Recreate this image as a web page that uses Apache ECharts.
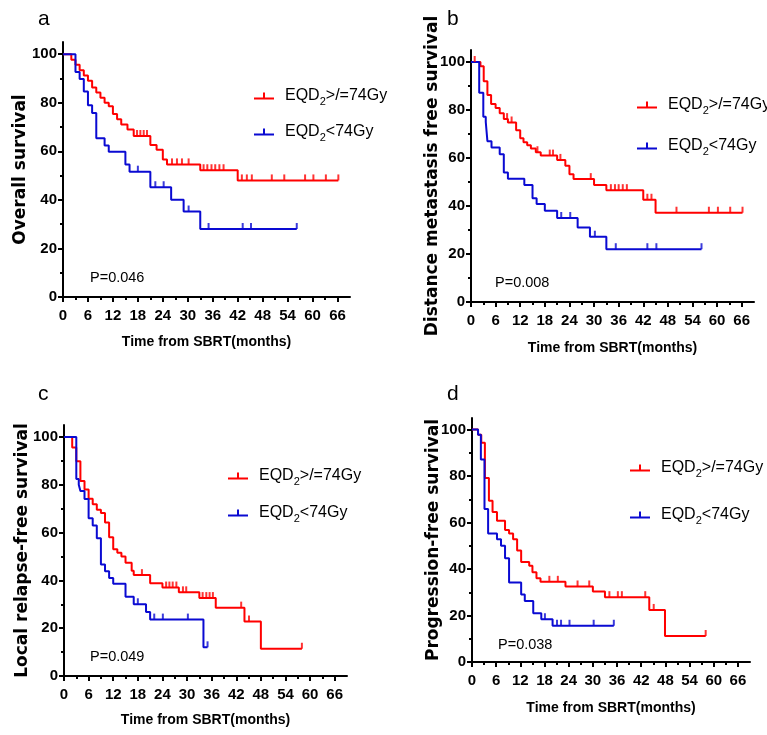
<!DOCTYPE html>
<html>
<head>
<meta charset="utf-8">
<script src="https://cdn.jsdelivr.net/npm/echarts@6/dist/echarts.min.js"></script>
<style>
html, body { margin: 0; padding: 0; background: #fff; }
#main { width: 767px; height: 735px; }
</style>
</head>
<body>
<div id="main"></div>
<script>
// Kaplan-Meier steps [month, survival %]
var osHigh = [[0,100],[2,97.7],[3,95.6],[4,93.4],[5,91.2],[6,89],[7,86.3],[8,84.2],[9,82],[10,80],[11,78.5],[12,75.4],[13,73.2],[14,71],[15.5,69],[17,66.3],[21,62.6],[22.5,60.6],[24,56.6],[25,54.6],[33,52.2],[42,48],[66.2,48]];
var osHighCens = [17.8,18.6,19.4,20.2,26.2,27.4,28.6,30.2,33.8,34.7,35.7,36.6,37.6,38.6,43,44.2,45.4,50.2,53.2,58.2,60.2,63.2,66.2];
var osLow = [[0,100],[3,92.6],[4,89.8],[5,84.6],[6,79],[7,75.8],[8,65.4],[10,62.4],[11,59.8],[15,54.6],[16,51.6],[21,45.2],[26,40],[29,35.2],[33,28],[56.2,28]];
var osLowCens = [18,22.2,24.2,30.2,35,43.2,45.2,56.2];

var dmHigh = [[0,100],[2.3,98.2],[3.1,92],[4,86.2],[4.9,82.5],[6,80.8],[7,78.6],[8,76.2],[9,74.8],[11,71.6],[12,68.2],[12.8,66.6],[13.7,65.3],[14.6,64],[15.8,62.4],[17,61],[21,59.2],[23,56.8],[24,53.2],[25,51.2],[30,48.8],[33,46.6],[42,42.6],[45,37.2],[66.2,37.2]];
var dmHighCens = [0.9,8.8,9.9,16.2,19.2,20,21.8,29.2,34.1,35.1,36,37,38,43,44,50.1,58,60.2,63.2,66.2];
var dmLow = [[0,100],[2,87.2],[3,77.2],[3.6,75],[4,67],[5,64.4],[7,61.6],[8,54],[9,51.4],[13,48.8],[15,43.2],[16,40.8],[18,38],[21,35],[26,31],[29,27.2],[33,22],[56.2,22]];
var dmLowCens = [22,24.2,30.2,35.3,43,45.2,56.2];

var lrHigh = [[0,100],[2,95.6],[3,89.8],[4,81.6],[5,78],[6,74.2],[7,71.8],[8,69.5],[9,68.2],[10,64.2],[11,58],[12,53],[13,51.6],[14,50],[15,47.4],[16.5,44],[17,42.2],[21,38.8],[24,37],[28,35],[33,32.6],[37,28.6],[44,22.8],[48,11.4],[58,11.4]];
var lrHighCens = [19,24.9,25.7,26.5,27.4,29,29.8,33.8,34.7,35.5,36.3,43.2,45.1,58];
var lrLow = [[0,100],[3,82.4],[3.6,80],[4,77.4],[5,74],[6,66],[7,63],[8,57.6],[9,46.6],[10,43.8],[11,41],[12,38.6],[15,33.2],[17,30],[20,26.8],[21,23.6],[34,12],[35,12]];
var lrLowCens = [18,22,24.1,30.2,35];

var pfHigh = [[0,100],[1.5,97.8],[2.3,94.3],[3.2,79.2],[4.2,69.4],[5.1,64.6],[6.2,60.8],[8.2,56.8],[9.2,55.3],[10.2,52.8],[11.2,48],[12.2,43],[14.2,41.4],[15,38.6],[16,36],[17,34.5],[23.2,32.5],[30,30.3],[33,27.9],[44,22.4],[47.9,11.2],[58,11.2]];
var pfHighCens = [19.2,21.3,26.2,29.1,34.1,36.2,37.2,43,45.1,58];
var pfLow = [[0,100],[1.5,97.8],[2.2,87.1],[3.1,65.8],[4,55.3],[6.2,52.8],[7.2,50],[8.2,44.6],[9.2,34.2],[12.2,29],[13.1,26.3],[15.2,21],[17.2,18.4],[20,15.6],[35.2,15.6]];
var pfLowCens = [18.1,21.1,22.1,24.2,30.2,35.2];

var xTicks = [0,6,12,18,24,30,36,42,48,54,60,66];
var xMinor = [3,9,15,21,27,33,39,45,51,57,63];
var yTicks = [0,20,40,60,80,100];
var yMinor = [10,30,50,70,90];

var nameHigh = 'EQD2>/=74Gy';
var nameLow = 'EQD2<74Gy';
var panelLetters = ['a','b','c','d'];
var pValues = ['P=0.046','P=0.008','P=0.049','P=0.038'];
var yNames = ['Overall survival','Distance metastasis free survival','Local relapse-free survival','Progression-free survival'];

var RED = '#ff0000';
var BLUE = '#0a0ad2';
var SANS = "'Liberation Sans',Arial,sans-serif";
var WIDE = "'DejaVu Sans',sans-serif";

var panels = [
  {hi: osHigh, hiC: osHighCens, lo: osLow, loC: osLowCens, grid: {left: 63, top: 42, width: 287, height: 255},
   yGap: 34, xGap: 38, legend: {left: 249, top: 80, gap: 14}, letter: [38, 9], p: [90, 270]},
  {hi: dmHigh, hiC: dmHighCens, lo: dmLow, loC: dmLowCens, grid: {left: 471, top: 50, width: 283, height: 252},
   yGap: 30, xGap: 39, legend: {left: 632, top: 89, gap: 19}, letter: [447, 9], p: [495, 275]},
  {hi: lrHigh, hiC: lrHighCens, lo: lrLow, loC: lrLowCens, grid: {left: 64, top: 425, width: 283, height: 251},
   yGap: 33, xGap: 37, legend: {left: 223, top: 460, gap: 15}, letter: [38, 384], p: [90, 649]},
  {hi: pfHigh, hiC: pfHighCens, lo: pfLow, loC: pfLowCens, grid: {left: 472, top: 418, width: 278, height: 244},
   yGap: 30, xGap: 39, legend: {left: 625, top: 452, gap: 25}, letter: [447, 384], p: [498, 637]}
];

// survival value at time t for censor marks
function survAt(steps, t) {
  var v = steps[0][1];
  for (var i = 0; i < steps.length; i++) {
    if (steps[i][0] <= t) v = steps[i][1];
  }
  return v;
}

var grids = [], xAxes = [], yAxes = [], series = [], legends = [], titles = [];
var tickIcon = 'path://M0,5h20v2h-20z M9,0h2v5h-2z';

panels.forEach(function (p, i) {
  grids.push(p.grid);
  xAxes.push({
    gridIndex: i, type: 'value', min: 0, max: 69, position: 'bottom',
    name: 'Time from SBRT(months)', nameLocation: 'middle', nameGap: p.xGap, nameMoveOverlap: false,
    nameTextStyle: {fontFamily: SANS, fontWeight: 'bold', fontSize: 14, color: '#000'},
    axisLine: {lineStyle: {color: '#000', width: 2}},
    axisTick: {customValues: xTicks, length: 5, lineStyle: {color: '#000', width: 2}},
    axisLabel: {customValues: xTicks, margin: 11, fontFamily: SANS, fontWeight: 'bold', fontSize: 15, color: '#000'},
    splitLine: {show: false}
  });
  xAxes.push({
    gridIndex: i, type: 'value', min: 0, max: 69, position: 'bottom',
    axisLine: {show: false},
    axisTick: {customValues: xMinor, length: 3, lineStyle: {color: '#000', width: 2}},
    axisLabel: {show: false}, splitLine: {show: false}
  });
  yAxes.push({
    gridIndex: i, type: 'value', min: 0, max: 105, position: 'left',
    name: yNames[i], nameLocation: 'middle', nameGap: p.yGap, nameRotate: 90, nameMoveOverlap: false,
    nameTextStyle: {fontFamily: WIDE, fontWeight: 'bold', fontSize: 17, color: '#000'},
    axisLine: {show: true, lineStyle: {color: '#000', width: 2}},
    axisTick: {show: true, customValues: yTicks, length: 5, lineStyle: {color: '#000', width: 2}},
    axisLabel: {customValues: yTicks, margin: 6, fontFamily: SANS, fontWeight: 'bold', fontSize: 15, color: '#000'},
    splitLine: {show: false}
  });
  yAxes.push({
    gridIndex: i, type: 'value', min: 0, max: 105, position: 'left',
    axisLine: {show: false},
    axisTick: {show: true, customValues: yMinor, length: 3, lineStyle: {color: '#000', width: 2}},
    axisLabel: {show: false}, splitLine: {show: false}
  });

  var xi = i * 2, yi = i * 2;
  [[nameHigh, p.hi, p.hiC, RED], [nameLow, p.lo, p.loC, BLUE]].forEach(function (s) {
    series.push({
      name: s[0], type: 'line', step: 'end', xAxisIndex: xi, yAxisIndex: yi,
      data: s[1], showSymbol: false, symbol: 'none',
      lineStyle: {color: s[3], width: 2}, itemStyle: {color: s[3]}, z: 3
    });
    series.push({
      name: s[0] + ' censored', type: 'scatter', xAxisIndex: xi, yAxisIndex: yi,
      data: s[2].map(function (t) { return [t, survAt(s[1], t)]; }),
      symbol: 'rect', symbolSize: [2, 6], symbolOffset: [0, -3],
      itemStyle: {color: s[3]}, z: 4
    });
  });

  legends.push({
    left: p.legend.left, top: p.legend.top, orient: 'vertical', itemGap: p.legend.gap,
    itemWidth: 20, itemHeight: 7, selectedMode: false,
    itemStyle: {borderWidth: 0},
    data: [{name: nameHigh, icon: tickIcon}, {name: nameLow, icon: tickIcon}],
    formatter: function (n) { return n.replace('EQD2', 'EQD{s|2}'); },
    textStyle: {
      fontFamily: SANS, fontSize: 16, color: '#000', lineHeight: 22, padding: [0, 0, 0, 6],
      rich: {s: {fontFamily: SANS, fontSize: 11, lineHeight: 11, verticalAlign: 'bottom', color: '#000'}}
    }
  });

  titles.push({text: panelLetters[i], left: p.letter[0], top: p.letter[1], padding: 0,
    textStyle: {fontFamily: SANS, fontWeight: 'normal', fontSize: 21, color: '#000'}});
  titles.push({text: pValues[i], left: p.p[0], top: p.p[1], padding: 0,
    textStyle: {fontFamily: SANS, fontWeight: 'normal', fontSize: 14.5, color: '#000'}});
});

var chart = echarts.init(document.getElementById('main'));
chart.setOption({
  backgroundColor: '#fff',
  animation: false,
  title: titles,
  legend: legends,
  grid: grids,
  xAxis: xAxes,
  yAxis: yAxes,
  series: series
});
</script>
</body>
</html>
